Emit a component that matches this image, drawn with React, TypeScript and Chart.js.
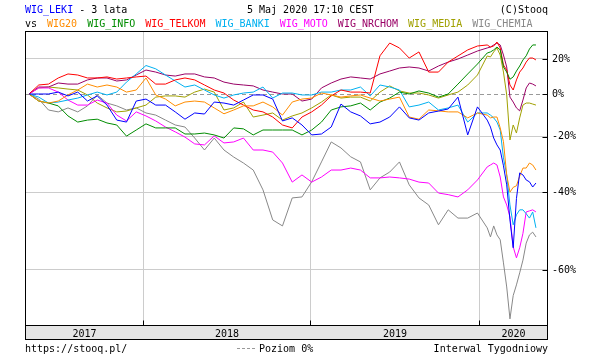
import React, { useEffect, useRef } from 'react';
import { Chart, registerables } from 'chart.js';
Chart.register(...registerables);

// week index since start of the 3-year window (weekly interval)
const WEEKS = [0,3,6,9,12,15,18,21,24,27,30,33,36,39,42,45,48,51,54,57,60,63,66,69,72,75,78,81,84,87,90,93,96,99,102,105,108,111,114,117,120,123,126,129,132,135,138,141,142,143,144,145,146,147,148,149,150,151,152,153,154,155,156];

// % change since start
const WIG_LEKI = [0,0,0,1.0,-1.0,1.0,-3.6,-1.0,-5.6,-12.7,-13.6,-3.6,-2.6,-5.6,-5.6,-8.9,-12.3,-9.4,-9.9,-4.1,-4.6,-5.6,-3.1,-0.5,-0.5,-2.6,-13.1,-11.7,-14.9,-19.2,-18.8,-15.8,-5.1,-8.9,-10.8,-14.4,-13.6,-11.3,-6.5,-11.7,-12.7,-9.4,-8.5,-7.5,-1.6,-19.2,-6.5,-12.7,-15.8,-20.5,-23.3,-25.3,-31.2,-37.7,-48.1,-55.1,-42.0,-33.7,-34.4,-36.1,-36.7,-38.4,-37.1];
const WIG20 = [0,-3.6,-4.6,-3.6,-0.5,2.1,5.3,3.7,4.8,3.7,1.0,2.1,8.7,-0.5,-2.6,-6.0,-4.1,-3.6,-4.1,-7.0,-9.8,-8.0,-6.0,-6.0,-4.1,-6.5,-10.4,-4.1,-2.6,-2.1,0.5,-0.5,-1.6,-1.0,-0.5,-2.1,-3.6,-2.6,-1.6,-11.3,-12.3,-8.0,-8.4,-8.9,-8.9,-11.7,-9.4,-10.4,-11.7,-11.3,-11.3,-16.2,-22.0,-34.4,-40.0,-38.5,-38.0,-34.8,-32.0,-32.0,-30.2,-30.9,-32.7];
const WIG_INFO = [0,-3.6,-4.6,-6.0,-10.8,-13.6,-12.7,-12.3,-14.0,-14.9,-19.7,-17.1,-14.4,-16.2,-16.2,-16.2,-18.8,-18.8,-18.4,-19.2,-20.5,-16.2,-16.6,-19.2,-17.1,-17.1,-17.1,-17.1,-19.2,-17.1,-13.6,-8.0,-6.5,-6.0,-4.6,-8.0,-4.1,-2.1,1.0,0,1.6,0.5,-1.6,0,5.3,11.0,16.9,23.8,24.5,25.8,27.7,25.8,15.1,12.1,8.0,9.3,12.7,15.7,19.4,22.0,26.4,29.1,29.1];
const WIG_TELKOM = [0,4.8,5.3,8.7,11.0,10.4,8.7,8.7,9.3,8.1,8.7,9.3,9.8,5.3,5.3,7.6,8.7,7.6,4.8,2.1,0.5,-3.1,-5.6,-8.0,-8.9,-11.3,-14.9,-16.2,-11.3,-8.9,-5.6,-1.0,2.1,1.0,1.0,0.5,22.0,30.4,27.1,20.6,24.5,12.1,12.1,18.1,21.9,25.8,28.4,29.1,27.7,28.4,31.1,27.1,16.3,13.3,4.8,2.1,7.6,12.1,14.5,18.1,20.6,20.6,19.4];
const WIG_BANKI = [0,-1.6,-4.6,-4.1,-3.1,-2.1,-0.5,1.0,-0.5,1.0,6.4,11.0,16.0,14.0,10.4,7.0,3.7,4.8,2.1,-0.5,-2.1,-0.5,0.5,1.0,3.7,-2.1,0.5,0.5,-0.5,-0.5,1.0,1.0,2.1,2.1,3.7,-1.0,4.8,3.7,2.1,-6.5,-5.6,-4.1,-8.0,-7.0,-5.6,-13.6,-9.4,-9.4,-10.4,-11.7,-13.6,-17.1,-28.3,-34.4,-43.9,-49.4,-46.7,-45.3,-45.3,-46.4,-47.6,-45.9,-50.2];
const WIG_MOTO = [0,3.2,3.2,1.0,-3.1,-5.6,-5.6,-3.1,-4.6,-10.4,-13.1,-8.9,-10.8,-13.1,-15.8,-17.9,-20.1,-22.9,-23.3,-19.6,-22.5,-22.1,-20.5,-25.3,-25.3,-26.1,-30.2,-36.8,-34.4,-36.8,-35.1,-32.7,-32.7,-32.0,-32.7,-35.4,-35.4,-35.1,-35.4,-35.8,-36.8,-37.1,-40.3,-40.8,-41.5,-39.3,-36.1,-31.6,-30.9,-30.2,-30.9,-35.1,-41.5,-43.9,-47.3,-54.9,-57.4,-55.1,-51.6,-45.9,-45.6,-45.3,-45.9];
const WIG_NRCHOM = [0,3.7,3.7,5.9,5.3,5.3,7.6,8.7,8.7,7.0,7.6,10.4,13.3,12.1,10.4,9.8,11.0,11.0,9.3,8.7,6.4,5.3,4.8,4.3,2.1,1.0,0,0,-3.6,-2.6,3.2,5.9,8.1,9.3,8.7,8.1,11.0,12.7,14.5,15.1,14.5,12.7,15.7,18.1,20.0,22.5,25.1,27.1,27.7,29.1,30.4,29.1,22.5,15.1,-1.6,-4.1,-7.0,-8.4,-3.1,3.2,5.9,5.3,4.3];
const WIG_MEDIA = [0,3.2,3.7,3.2,2.6,2.1,-0.5,-4.6,-7.0,-8.9,-8.5,-7.0,-5.6,-1.6,-1.0,-1.0,-1.6,1.0,2.6,1.0,-8.0,-7.0,-4.1,-11.3,-10.4,-9.4,-12.7,-10.8,-9.4,-7.0,-4.1,-0.5,-2.1,-1.6,-1.6,-3.6,1.0,4.3,1.6,0.5,0.5,-0.5,-2.1,-0.5,1.0,4.8,10.4,21.9,21.3,24.5,27.1,22.5,12.1,-0.5,-21.3,-14.9,-18.4,-11.7,-5.6,-4.6,-4.6,-5.1,-5.6];
const WIG_CHEMIA = [0,-2.6,-8.0,-8.9,-7.0,-8.9,-6.0,-0.5,-4.6,-6.0,-8.0,-7.0,-9.4,-10.4,-12.7,-14.9,-15.8,-20.5,-25.3,-20.5,-25.3,-28.0,-30.2,-32.7,-39.3,-48.1,-49.7,-41.8,-41.5,-36.7,-29.8,-22.1,-24.5,-27.9,-29.8,-39.3,-35.4,-33.4,-29.8,-37.7,-41.8,-43.9,-49.4,-45.3,-47.6,-47.6,-46.2,-50.2,-52.5,-49.7,-52.0,-53.2,-58.5,-63.4,-69.0,-65.0,-63.0,-60.6,-57.9,-54.0,-52.0,-51.3,-52.5];

const SERIES_NAMES = ['WIG_LEKI','WIG20','WIG_INFO','WIG_TELKOM','WIG_BANKI','WIG_MOTO','WIG_NRCHOM','WIG_MEDIA','WIG_CHEMIA'];
const SERIES_DATA = [WIG_LEKI, WIG20, WIG_INFO, WIG_TELKOM, WIG_BANKI, WIG_MOTO, WIG_NRCHOM, WIG_MEDIA, WIG_CHEMIA];
const SERIES_COLORS = ['#0000ff','#ff8c00','#008c00','#ff0000','#00b0f0','#ff00ff','#990066','#a0a000','#888888'];

// week index of 1 Jan of 2018, 2019, 2020
const YEAR_BOUNDS = [35.1, 86.5, 138.5];
const YEAR_LABELS = ['2017','2018','2019','2020'];
const Y_TICKS = [20, 0, -20, -40, -60];
const Y_TICK_LABELS = ['20%','0%','-20%','-40%','-60%'];

const TITLE_MAIN = 'WIG_LEKI';
const TITLE_REST = ' - 3 lata';
const TITLE_DATE = '5 Maj 2020 17:10 CEST';
const COPYRIGHT = '(C)Stooq';
const FOOT_LEFT = 'https://stooq.pl/';
const FOOT_MID = 'Poziom 0%';
const FOOT_RIGHT = 'Interwal Tygodniowy';

const FONT = '10px "DejaVu Sans Mono"';
const toLog = (p: number) => Math.log(1 + p / 100);

const decor = {
  id: 'decor',
  beforeDatasetsDraw(chart: any) {
    const { ctx, chartArea, scales } = chart;
    const y0 = Math.round(scales.y.getPixelForValue(0)) + 0.5;
    ctx.save();
    ctx.strokeStyle = '#999999';
    ctx.lineWidth = 1;
    ctx.setLineDash([4, 3]);
    ctx.beginPath();
    ctx.moveTo(chartArea.left, y0);
    ctx.lineTo(chartArea.right, y0);
    ctx.stroke();
    ctx.restore();
  },
  afterDraw(chart: any) {
    const { ctx, chartArea, scales } = chart;
    const L = Math.round(chartArea.left) + 0.5;
    const R = Math.round(chartArea.right) + 0.5;
    const T = Math.round(chartArea.top) + 0.5;
    const B = Math.round(chartArea.bottom) + 0.5;
    ctx.save();
    ctx.font = FONT;
    ctx.textBaseline = 'alphabetic';
    // year band
    const bandB = B + 14;
    ctx.fillStyle = '#e4e4e4';
    ctx.fillRect(L, B, R - L, bandB - B);
    ctx.strokeStyle = '#000';
    ctx.lineWidth = 1;
    ctx.strokeRect(L, B, R - L, bandB - B);
    // frame
    ctx.strokeRect(L, T, R - L, B - T);
    // year ticks
    const xs = YEAR_BOUNDS.map((v) => Math.round(scales.x.getPixelForValue(v)) + 0.5);
    ctx.beginPath();
    xs.forEach((x) => { ctx.moveTo(x, B - 5); ctx.lineTo(x, B); });
    // y ticks (inner)
    Y_TICKS.forEach((p) => {
      const y = Math.round(scales.y.getPixelForValue(toLog(p))) + 0.5;
      ctx.moveTo(R - 5, y); ctx.lineTo(R, y);
    });
    ctx.stroke();
    // year labels
    const edges = [L, ...xs, R];
    ctx.fillStyle = '#000';
    ctx.textAlign = 'center';
    YEAR_LABELS.forEach((lab, i) => {
      ctx.fillText(lab, (edges[i] + edges[i + 1]) / 2, B + 11);
    });
    // header
    ctx.textAlign = 'left';
    ctx.fillStyle = SERIES_COLORS[0];
    ctx.fillText(TITLE_MAIN, 25, 13);
    ctx.fillStyle = '#000';
    ctx.fillText(TITLE_REST, 25 + ctx.measureText(TITLE_MAIN).width, 13);
    ctx.fillText(TITLE_DATE, 247, 13);
    ctx.textAlign = 'right';
    ctx.fillText(COPYRIGHT, 548, 13);
    ctx.textAlign = 'left';
    let x = 25;
    ctx.fillStyle = '#000';
    ctx.fillText('vs', x, 27);
    x += ctx.measureText('vs').width + 10;
    SERIES_NAMES.slice(1).forEach((n, i) => {
      ctx.fillStyle = SERIES_COLORS[i + 1];
      ctx.fillText(n, x, 27);
      x += ctx.measureText(n).width + 10;
    });
    // footer
    ctx.fillStyle = '#000';
    ctx.fillText(FOOT_LEFT, 25, 352);
    ctx.fillText(FOOT_MID, 259, 352);
    ctx.textAlign = 'right';
    ctx.fillText(FOOT_RIGHT, 548, 352);
    ctx.strokeStyle = '#999999';
    ctx.setLineDash([3, 2]);
    ctx.beginPath();
    ctx.moveTo(237, 348.5);
    ctx.lineTo(257, 348.5);
    ctx.stroke();
    ctx.restore();
  },
};

export default function App() {
  const ref = useRef<HTMLCanvasElement>(null);
  useEffect(() => {
    document.body.style.margin = '0';
    const chart = new Chart(ref.current as HTMLCanvasElement, {
      type: 'line',
      data: {
        datasets: SERIES_NAMES.map((n, i) => ({
          label: n,
          data: WEEKS.map((w, j) => ({ x: w, y: toLog(SERIES_DATA[i][j]) })),
          borderColor: SERIES_COLORS[i],
          borderWidth: 1,
          pointRadius: 0,
          tension: 0,
          fill: false,
        })),
      },
      options: {
        animation: false,
        responsive: true,
        maintainAspectRatio: false,
        devicePixelRatio: 1,
        layout: { padding: { left: 25, top: 31, right: 0, bottom: 0 } },
        plugins: { legend: { display: false }, tooltip: { enabled: false } },
        scales: {
          x: {
            type: 'linear',
            min: -1.23,
            max: 159.4,
            afterBuildTicks: (s: any) => { s.ticks = YEAR_BOUNDS.map((v) => ({ value: v })); },
            afterFit: (s: any) => { s.height = 33; },
            ticks: { display: false },
            grid: { color: '#cccccc', drawTicks: false, lineWidth: 1 },
            border: { display: false },
          },
          y: {
            type: 'linear',
            position: 'right',
            min: -1.203125,
            max: 0.328125,
            afterBuildTicks: (s: any) => { s.ticks = Y_TICKS.map((p) => ({ value: toLog(p) })); },
            afterFit: (s: any) => { s.width = 48; },
            ticks: {
              padding: 5,
              color: '#000',
              font: { family: 'DejaVu Sans Mono', size: 10 },
              callback: (_v: any, i: number) => Y_TICK_LABELS[i],
            },
            grid: {
              drawTicks: false,
              lineWidth: 1,
              color: (c: any) => (c.tick && Math.abs(c.tick.value) < 1e-9 ? 'rgba(0,0,0,0)' : '#cccccc'),
            },
            border: { display: false },
          },
        },
      },
      plugins: [decor],
    } as any);
    return () => chart.destroy();
  }, []);
  return (
    <div style={{ position: 'absolute', left: 0, top: 0, width: 595, height: 358 }}>
      <canvas ref={ref} />
    </div>
  );
}
